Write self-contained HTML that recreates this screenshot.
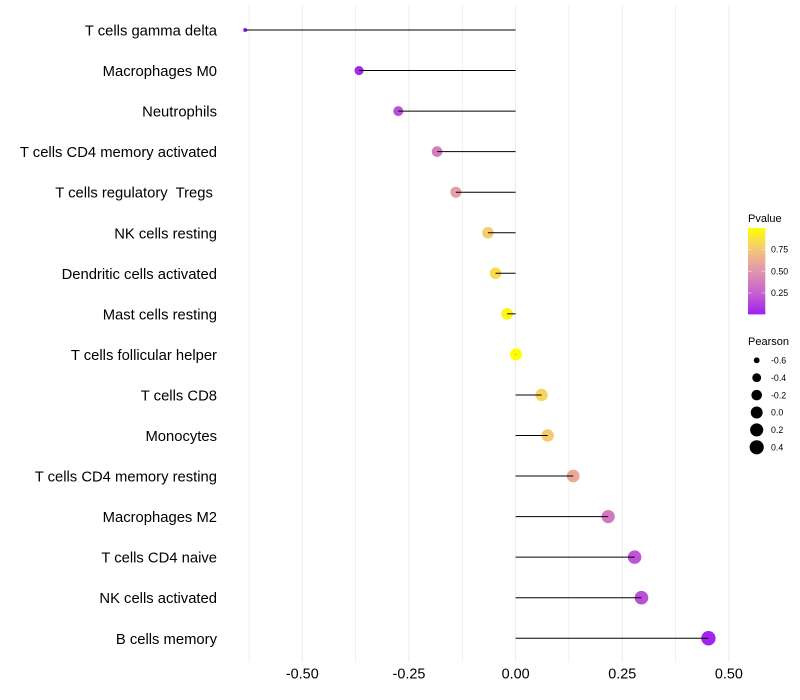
<!DOCTYPE html>
<html>
<head>
<meta charset="utf-8">
<title>Pearson lollipop chart</title>
<style>
html,body{margin:0;padding:0;background:#fff;width:800px;height:700px;overflow:hidden}
svg{display:block}
text{font-family:"Liberation Sans",sans-serif;white-space:pre}
</style>
</head>
<body>
<svg id="chart" width="800" height="700" viewBox="0 0 800 700" xmlns="http://www.w3.org/2000/svg">
<defs>
<linearGradient id="pvalue-gradient" x1="0" y1="1" x2="0" y2="0">
<stop offset="0" stop-color="#A020F0"/>
<stop offset="0.25" stop-color="#C662CF"/>
<stop offset="0.5" stop-color="#E096AE"/>
<stop offset="0.75" stop-color="#F4C67A"/>
<stop offset="1" stop-color="#FFFF00"/>
</linearGradient>
</defs>
<g id="grid"></g>
<g id="points"></g>
<g id="segments"></g>
<g id="ylabels"></g>
<g id="xlabels"></g>
<g id="legend-p"></g>
<g id="legend-s"></g>
</svg>
<script>
const categories = ["T cells gamma delta","Macrophages M0","Neutrophils","T cells CD4 memory activated","T cells regulatory  Tregs ","NK cells resting","Dendritic cells activated","Mast cells resting","T cells follicular helper","T cells CD8","Monocytes","T cells CD4 memory resting","Macrophages M2","T cells CD4 naive","NK cells activated","B cells memory"];
const pearson = [-0.634,-0.367,-0.275,-0.184,-0.140,-0.065,-0.047,-0.020,0.001,0.061,0.075,0.135,0.217,0.279,0.295,0.452];
const pvalues = [0.01,0.03,0.18,0.38,0.55,0.78,0.84,0.96,1.0,0.81,0.77,0.60,0.36,0.20,0.18,0.02];
const xTicks = [-0.5,-0.25,0,0.25,0.5];
const xTickLabels = ["-0.50","-0.25","0.00","0.25","0.50"];
const xMinorTicks = [-0.625,-0.375,-0.125,0.125,0.375];
const pvalueTicks = [0.25,0.5,0.75];
const pvalueTickLabels = ["0.25","0.50","0.75"];
const sizeBreaks = [-0.6,-0.4,-0.2,0,0.2,0.4];
const sizeBreakLabels = ["-0.6","-0.4","-0.2","0.0","0.2","0.4"];

const NS = "http://www.w3.org/2000/svg";
function make(tag, attrs, parent, txt){
  const el = document.createElementNS(NS, tag);
  for (const k in attrs) el.setAttribute(k, attrs[k]);
  if (txt !== undefined) el.textContent = txt;
  parent.appendChild(el);
  return el;
}
const xScale = v => 515.6 + v * 426.6;
const yScale = i => 30 + i * (638.25 - 30) / (categories.length - 1);
const sizeMin = Math.min(...pearson), sizeMax = Math.max(...pearson);
const radius = v => {
  const t = Math.max(0, Math.min(1, (v - sizeMin) / (sizeMax - sizeMin)));
  return (4 + 10.4 * Math.sqrt(t)) / 2;
};
const colorStops = [[160,32,240],[198,98,207],[224,150,174],[244,198,122],[255,255,0]];
function colorOf(p){
  const t = Math.max(0, Math.min(1, p)) * (colorStops.length - 1);
  const i = Math.min(colorStops.length - 2, Math.floor(t));
  const f = t - i;
  const c = colorStops[i].map((a, j) => Math.round(a + (colorStops[i + 1][j] - a) * f));
  return "rgb(" + c.join(",") + ")";
}

const grid = document.getElementById("grid");
xMinorTicks.forEach(v => {
  const l = make("line", {x1:xScale(v), x2:xScale(v), y1:5, y2:662, stroke:"#ebebeb", "stroke-width":0.7}, grid);
  
  
});
xTicks.forEach(v => {
  const l = make("line", {x1:xScale(v), x2:xScale(v), y1:5, y2:662, stroke:"#ebebeb", "stroke-width":1}, grid);
  
  
});

const pts = document.getElementById("points");
const segs = document.getElementById("segments");
const yl = document.getElementById("ylabels");
categories.forEach((name, i) => {
  const c = make("circle", {cx:xScale(pearson[i]), cy:yScale(i), r:radius(pearson[i]), fill:colorOf(pvalues[i])}, pts);
  
  
  const s = make("line", {x1:xScale(0), x2:xScale(pearson[i]), y1:yScale(i), y2:yScale(i), stroke:"#000", "stroke-width":1}, segs);
  
  
  const t = make("text", {x:217, y:yScale(i) + 5.5, "text-anchor":"end", "font-size":14.8, fill:"#000"}, yl, name);
  
  
});

const xl = document.getElementById("xlabels");
xTicks.forEach((v, i) => {
  const t = make("text", {x:xScale(v), y:678.7, "text-anchor":"middle", "font-size":14.4, fill:"#000"}, xl, xTickLabels[i]);
  
  
});

const lp = document.getElementById("legend-p");
const pTitle = make("text", {x:748, y:222, "font-size":11, fill:"#000"}, lp, "Pvalue");


const bar = make("rect", {x:748, y:228, width:17.3, height:86.4, fill:"url(#pvalue-gradient)"}, lp);


const barY = p => 314.7 - p * 87;
pvalueTicks.forEach((p, i) => {
  const a = make("line", {x1:748, x2:751.5, y1:barY(p), y2:barY(p), stroke:"#fff", "stroke-width":0.6, "stroke-opacity":0.8}, lp);
  
  
  const b = make("line", {x1:761.8, x2:765.3, y1:barY(p), y2:barY(p), stroke:"#fff", "stroke-width":0.6, "stroke-opacity":0.8}, lp);
  
  
  const t = make("text", {x:771, y:barY(p) + 3.2, "font-size":8.8, fill:"#000"}, lp, pvalueTickLabels[i]);
  
  
});

const ls = document.getElementById("legend-s");
const sTitle = make("text", {x:748, y:345, "font-size":11, fill:"#000"}, ls, "Pearson");


sizeBreaks.forEach((v, i) => {
  const y = 360.3 + i * 17.4;
  const c = make("circle", {cx:756.7, cy:y, r:radius(v), fill:"#000"}, ls);
  
  
  const t = make("text", {x:771, y:y + 3.2, "font-size":8.8, fill:"#000"}, ls, sizeBreakLabels[i]);
  
  
});
</script>
</body>
</html>
